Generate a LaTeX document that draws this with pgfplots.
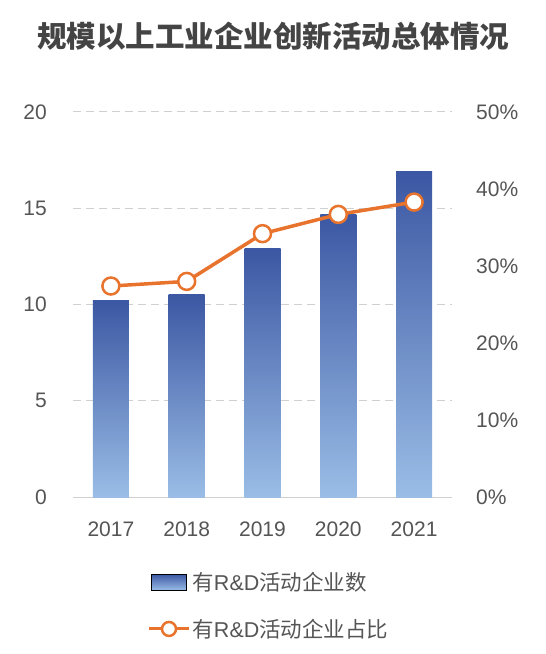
\documentclass[border=0pt]{standalone}
\usepackage{pgfplots}
\pgfplotsset{compat=1.18}
\usepackage{fontspec}
\setmainfont{Liberation Sans}
\newfontfamily\cjk{Noto Sans CJK SC}
\definecolor{barTop}{HTML}{3C57A3}
\definecolor{barBot}{HTML}{9ABDE6}
\definecolor{lineOr}{HTML}{E8732C}
\definecolor{txt}{HTML}{555555}
\definecolor{ttl}{HTML}{444444}
\definecolor{gridc}{HTML}{D0D0D0}
\pgfplotstableread{
x year count ratio
0 2017 10.2 27.4
1 2018 10.5 28.0
2 2019 12.9 34.2
3 2020 14.7 36.7
4 2021 16.9 38.3
}\datatab
\begin{document}
\begin{tikzpicture}
\begin{axis}[
  scale only axis, width=379bp, height=385bp,
  xmin=-0.5, xmax=4.5, ymin=0, ymax=20,
  xtick={0,1,2,3,4}, xticklabels={2017,2018,2019,2020,2021},
  ytick={0,5,10,15,20},
  axis lines*=left,
  separate axis lines,
  x axis line style={gridc, line width=1bp, -},
  y axis line style={draw=none},
  major tick length=0pt, tick style={draw=none},
  ymajorgrids, grid style={gridc, line width=1bp, dash pattern=on 8bp off 5bp},
  /pgf/number format/assume math mode=true,
  ticklabel style={font=\fontsize{21bp}{24bp}\selectfont, text=txt, inner sep=0pt},
  yticklabel style={xshift=-26bp},
  xticklabel style={yshift=-25bp},
  legend style={at={(0.517,-0.19)}, anchor=north, draw=none, fill=none,
    font=\fontsize{21.5bp}{24bp}\selectfont, text=txt, row sep=23bp,
    inner sep=0pt},
  legend cell align=left,
  barstyle/.style={ybar, bar width=36bp, draw=none, top color=barTop, bottom color=barBot, forget plot},
]
\addplot[barstyle] coordinates {(0,10.2)};
\addplot[barstyle] coordinates {(1,10.5)};
\addplot[barstyle] coordinates {(2,12.9)};
\addplot[barstyle] coordinates {(3,14.7)};
\addplot[barstyle] coordinates {(4,16.9)};
\addlegendimage{legend image code/.code={\shade[top color=barTop,bottom color=barBot] (-2bp,-8bp) rectangle (33bp,8bp);}}
\addlegendentry{{\cjk 有}R\&D{\cjk 活动企业数}}
\addlegendimage{legend image code/.code={\draw[lineOr, line width=3bp] (-4bp,0) -- (36bp,0); \draw[lineOr, line width=2.5bp, fill=white] (16bp,0) circle (7bp);}}
\addlegendentry{{\cjk 有}R\&D{\cjk 活动企业占比}}
\end{axis}
\begin{axis}[
  scale only axis, width=379bp, height=385bp,
  xmin=-0.5, xmax=4.5, ymin=0, ymax=50,
  ytick={0,10,20,30,40,50},
  yticklabel={\pgfmathprintnumber{\tick}\%},
  axis x line=none, axis y line*=right,
  y axis line style={draw=none},
  major tick length=0pt, tick style={draw=none},
  /pgf/number format/assume math mode=true,
  ticklabel style={font=\fontsize{21bp}{24bp}\selectfont, text=txt, inner sep=0pt},
  yticklabel style={xshift=24bp},
]
\addplot[lineOr, line width=3.5bp, mark=*, mark size=8.5bp, mark options={fill=white, draw=lineOr, line width=2.5bp}] table[x=x, y=ratio] {\datatab};
\end{axis}
\node[font=\cjk\bfseries\fontsize{29.5bp}{32bp}\selectfont, text=ttl] at (200bp,461bp) {规模以上工业企业创新活动总体情况};
\pgfresetboundingbox
\path (-73bp,-157bp) rectangle (473bp,497bp);
\end{tikzpicture}
\end{document}
